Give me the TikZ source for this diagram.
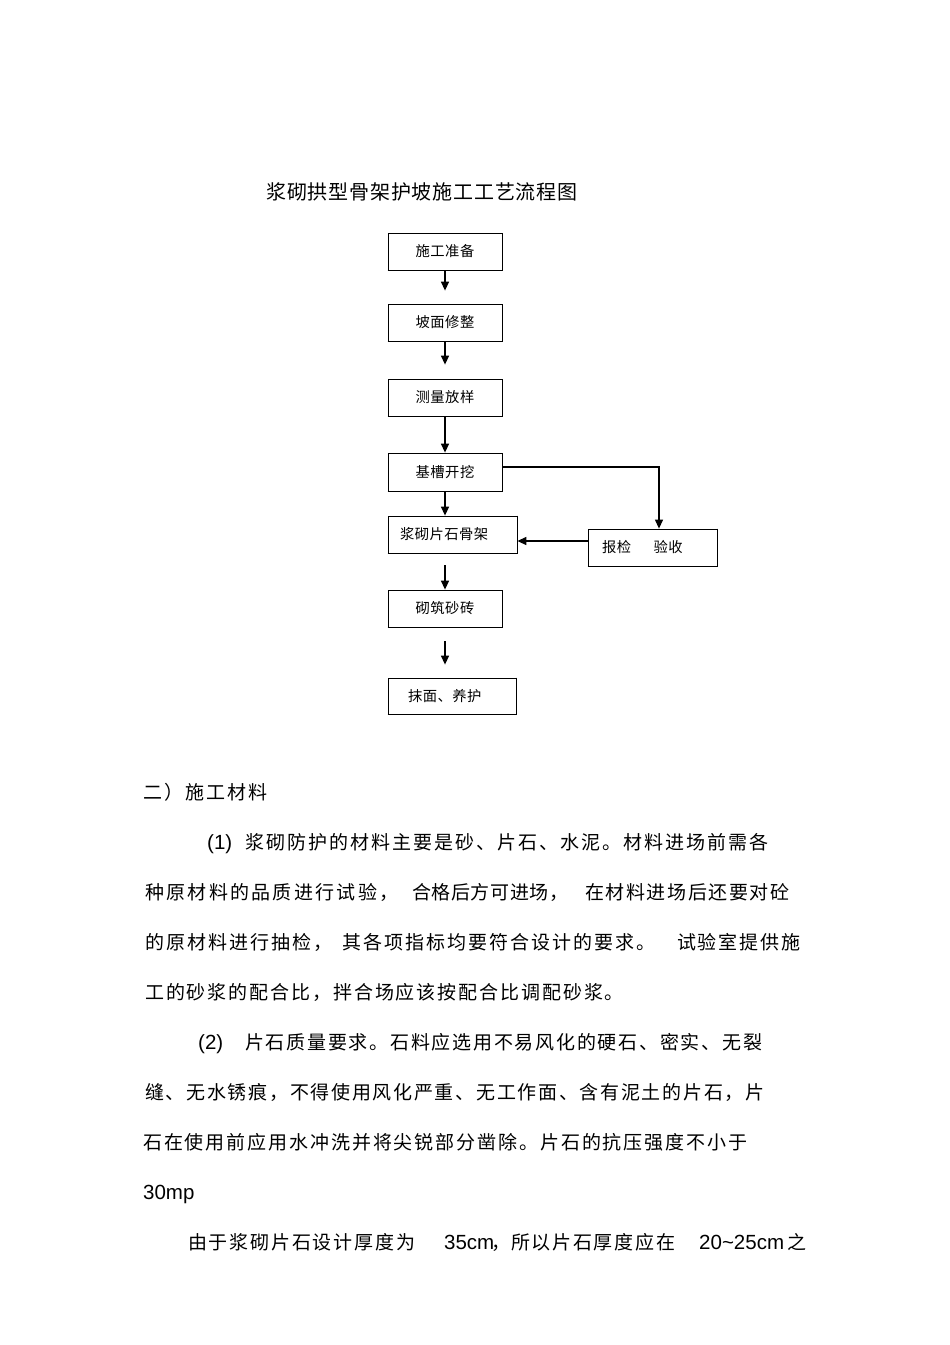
\documentclass[tikz,border=0pt]{standalone}
\usepackage{fontspec}
\setmainfont{Liberation Sans}
\newfontfamily\cjk{Noto Sans CJK SC}
\usetikzlibrary{arrows.meta}

\newcommand\titlefont{\cjk\fontsize{20}{24}\selectfont}
\newcommand\bodyfont{\cjk\fontsize{19}{22}\selectfont}
\newcommand\latfont{\fontsize{20.5}{24}\selectfont}
\newcommand\boxfont{\cjk\fontsize{14.3}{17}\selectfont}
% CJK text with a fixed gap between the characters
\newcommand\cjkline[2]{{\def\cjkgap{\hskip#1\relax}\cjkfirst#2\relax}}
\def\cjkfirst#1{#1\cjknext}
\def\cjknext#1{\ifx#1\relax\else\cjkgap#1\expandafter\cjknext\fi}

\begin{document}
\begin{tikzpicture}[
        x=1pt, y=-1pt,
        box/.style={rectangle, draw=black, line width=0.8pt, minimum width=114pt,
            minimum height=37pt, inner sep=0pt, align=center, font=\boxfont},
        wide/.style={box, minimum width=0pt, align=left},
        arr/.style={-{Triangle[length=9pt, width=8pt]}, line width=1.4pt, draw=black},
        edge/.style={line width=1.7pt, draw=black},
        txt/.style={anchor=west, inner sep=0pt, text height=16pt, text depth=1.7pt,
            font=\bodyfont},
        lat/.style={txt, font=\latfont}
    ]
    \fill[white] (0,0) rectangle (950,1345);
    \useasboundingbox (0,0) rectangle (950,1345);

    % title
    \node[txt, font=\titlefont] (title) at (266,192) {\cjkline{0.8pt}{浆砌拱型骨架护坡施工工艺流程图}};

    % flow chart
    \node[box] (prep) at (445,251.5) {\cjkline{0.5pt}{施工准备}};
    \node[box] (slope) at (445,322.5) {\cjkline{0.5pt}{坡面修整}};
    \node[box] (survey) at (445,397.5) {\cjkline{0.5pt}{测量放样}};
    \node[box, minimum height=38pt] (dig) at (445,472) {\cjkline{0.5pt}{基槽开挖}};
    \node[wide, inner xsep=12pt, text width=105pt] (wall) at (452.5,534.5) {\cjkline{0.5pt}{浆砌片石骨架}};
    \node[wide, inner xsep=14pt, text width=101pt] (check) at (652.5,547.5)
        {\cjkline{0.5pt}{报检}\hspace{22.5pt}\cjkline{0.5pt}{验收}};
    \node[box] (brick) at (445,608.5) {\cjkline{0.5pt}{砌筑砂砖}};
    \node[wide, inner xsep=20pt, text width=88pt, minimum height=36pt] (finish) at (452,696)
        {\cjkline{0.5pt}{抹面、养护}};

    % heavier bottom and right edges
    \foreach \n in {prep,slope,survey,dig,wall,check,brick,finish}
        \draw[edge] (\n.south west) -- (\n.south east);
    \foreach \n in {wall,check,finish}
        \draw[edge] (\n.north east) -- (\n.south east);

    \draw[arr, shorten >=13pt] (prep) -- (slope);
    \draw[arr, shorten >=14pt] (slope) -- (survey);
    \draw[arr] (survey) -- (dig);
    \draw[arr] (dig) -- (dig.south |- wall.north);
    \draw[arr, line width=1.2pt] ([yshift=5pt]dig.east) -| ([xshift=6.5pt]check.north);
    \coordinate (cin) at ([yshift=6.5pt]check.west);
    \draw[arr] (cin) -- (cin -| wall.east);
    \draw[arr, shorten <=12pt] (wall.south -| brick.north) -- (brick.north);
    \draw[arr, shorten <=14pt, shorten >=13pt] (brick.south) -- (brick.south |- finish.north);

    % text below
    \node[txt] (head) at (143,792) {\cjkline{2pt}{二）施工材料}};

    \node[lat] (n1) at (207,842) {(1)};
    \node[txt] (l1) at (245,842) {\cjkline{2pt}{浆砌防护的材料主要是砂、片石、水泥。材料进场前需各}};
    \node[txt] (l2a) at (145,892) {\cjkline{2.3pt}{种原材料的品质进行试验，}};
    \node[txt] (l2b) at (412,892) {\cjkline{0.6pt}{合格后方可进场，}};
    \node[txt] (l2c) at (585,892) {\cjkline{1.6pt}{在材料进场后还要对砼}};
    \node[txt] (l3a) at (145,942) {\cjkline{2pt}{的原材料进行抽检，}};
    \node[txt] (l3b) at (342,942) {\cjkline{2pt}{其各项指标均要符合设计的要求。}};
    \node[txt] (l3c) at (677,942) {\cjkline{1.8pt}{试验室提供施}};
    \node[txt] (l4) at (145,992) {\cjkline{1.9pt}{工的砂浆的配合比，拌合场应该按配合比调配砂浆。}};

    \node[lat] (n2) at (198,1042) {(2)};
    \node[txt] (l5) at (245,1042) {\cjkline{1.75pt}{片石质量要求。石料应选用不易风化的硬石、密实、无裂}};
    \node[txt] (l6) at (145,1092) {\cjkline{1.7pt}{缝、无水锈痕，不得使用风化严重、无工作面、含有泥土的片石，片}};
    \node[txt] (l7) at (143,1142) {\cjkline{1.9pt}{石在使用前应用水冲洗并将尖锐部分凿除。片石的抗压强度不小于}};
    \node[lat] (l8) at (143,1192) {30mp};

    \node[txt] (l9a) at (188,1242) {\cjkline{1.8pt}{由于浆砌片石设计厚度为}};
    \node[lat] (l9b) at (444,1242) {35cm};
    \node[txt] (l9c) at (491,1242) {，};
    \node[txt] (l9d) at (511,1242) {\cjkline{1.7pt}{所以片石厚度应在}};
    \node[lat] (l9e) at (699,1242) {20\string~25cm};
    \node[txt] (l9f) at (787,1242) {之};
\end{tikzpicture}
\end{document}
